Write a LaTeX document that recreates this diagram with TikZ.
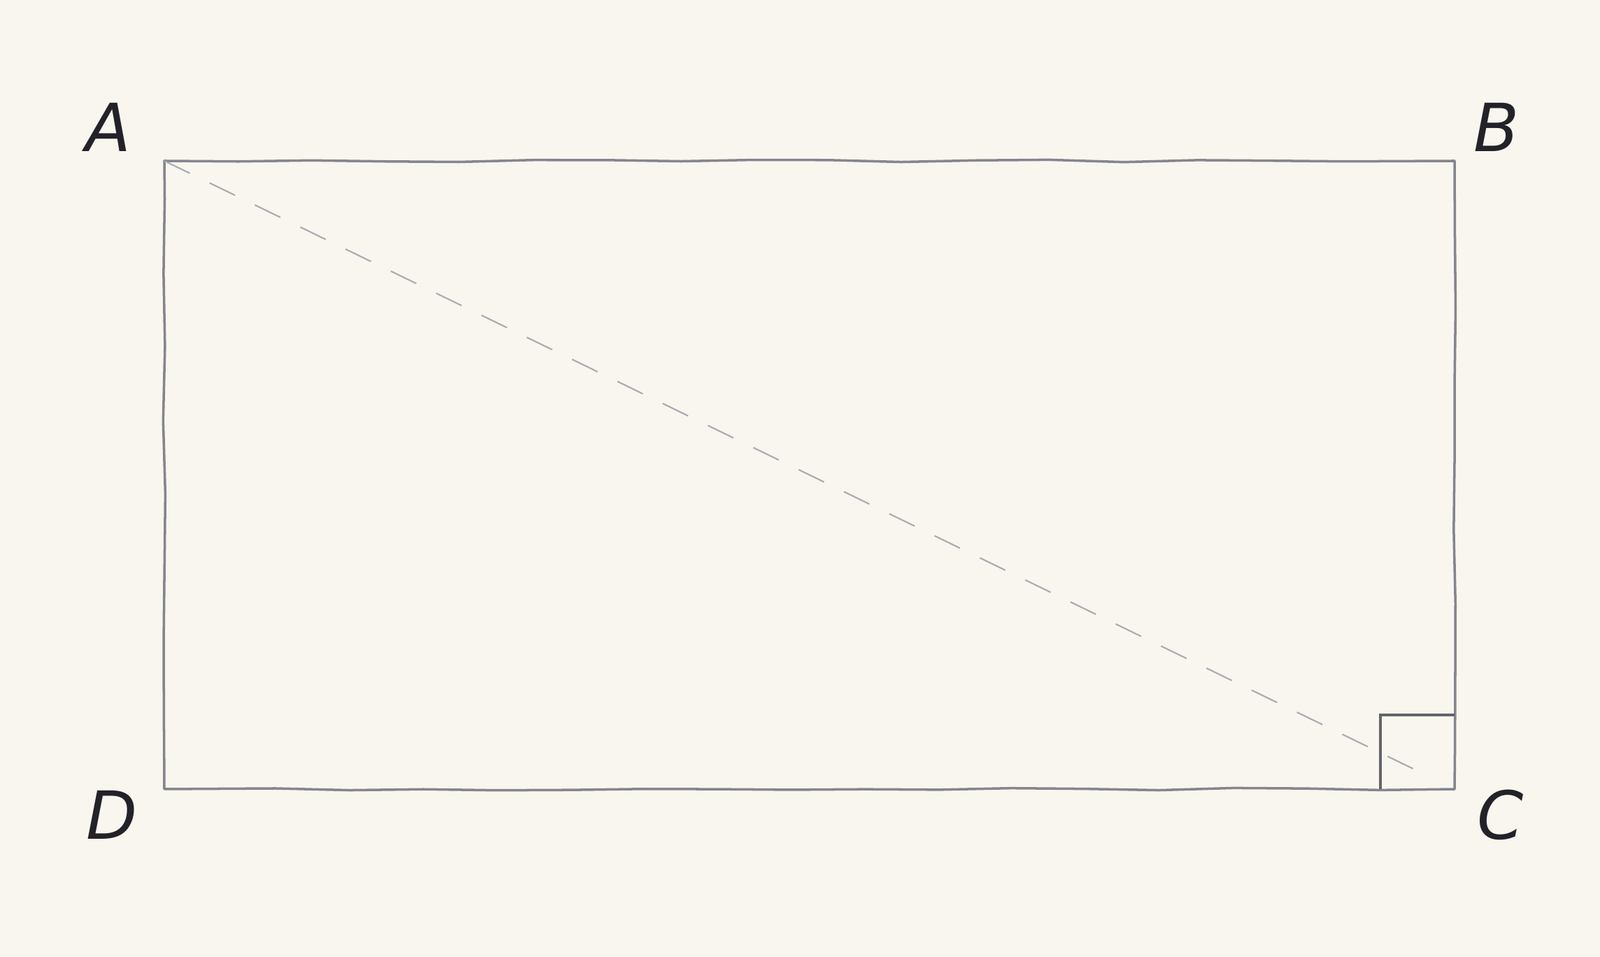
\documentclass[tikz,border=0pt]{standalone}
\usepackage{fontspec}
\newfontfamily\labelfont{DejaVu Sans}
\usetikzlibrary{decorations.pathmorphing}

\definecolor{paper}{HTML}{F8F6EE}
\definecolor{pencil}{HTML}{85858F}
\definecolor{ink}{HTML}{232228}

\tikzset{
    edge/.style={draw=pencil, line width=1pt, line join=round,
        decorate, decoration={random steps, segment length=30pt, amplitude=0.5pt}},
    mark90/.style={draw=pencil!75!black, line width=0.9pt},
    diag/.style={draw=pencil!70, line width=0.6pt, dash pattern=on 11.5pt off 9pt},
    vlabel/.style={text=ink, font=\labelfont\itshape\fontsize{27}{31}\selectfont}
}

\begin{document}
\begin{tikzpicture}
        \fill[paper] (0,0) rectangle (22.88,13.68);
        \useasboundingbox (0,0) rectangle (22.88,13.68);
        % corners
        \coordinate (A) at (2.35,11.38);
        \coordinate (B) at (20.80,11.38);
        \coordinate (C) at (20.80,2.40);
        \coordinate (D) at (2.35,2.40);
        \coordinate (Cend) at (20.23,2.68);
        % labels
        \node[vlabel] (labA) at (1.55,11.86) {A};
        \node[vlabel] (labB) at (21.40,11.86) {B};
        \node[vlabel] (labC) at (21.46,2.03) {C};
        \node[vlabel] (labD) at (1.60,2.03) {D};
        % rectangle
        \draw[edge] (A) -- (B) -- (C) -- (D) -- cycle;
        \draw[diag] (A) -- (Cend);
        % right angle
        \draw[mark90] (C) ++(0,1.06) -| ++(-1.06,-1.06);
    \end{tikzpicture}
\end{document}
